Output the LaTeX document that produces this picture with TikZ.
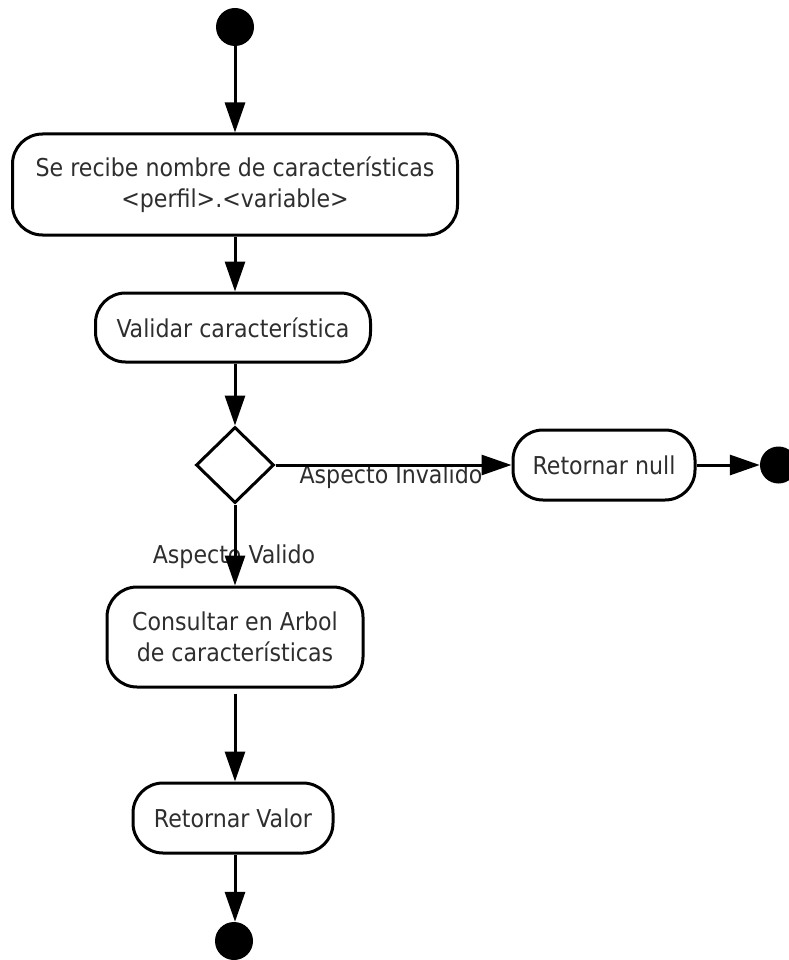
\documentclass[tikz,border=0pt]{standalone}
\usepackage{fontspec}
\IfFontExistsTF{DejaVu Sans Condensed}
  {\setmainfont{DejaVu Sans Condensed}}
  {\setmainfont{DejaVu Sans}[FakeStretch=0.9]}
\usetikzlibrary{arrows.meta, shapes.geometric}

\definecolor{ink}{HTML}{2E2E2E}

\tikzset{
  activity/.style={draw=black, line width=3pt, rounded corners=30pt,
    align=center, inner sep=0pt, text=ink,
    font=\fontsize{24.6}{31.5}\selectfont},
  decision/.style={draw=black, line width=3pt, diamond, inner sep=0pt,
    minimum width=78pt, minimum height=76pt},
  terminal/.style={circle, fill=black, inner sep=0pt, minimum size=38pt},
  guard/.style={text=ink, inner sep=0pt, font=\fontsize{24.6}{30}\selectfont},
  flow/.style={line width=3pt, draw=black,
    -{Triangle[length=30pt, width=20pt]}}
}

\begin{document}
\begin{tikzpicture}[x=1pt, y=-1pt]
  \useasboundingbox (0,0) rectangle (788,960);

  % nodes
  \node[terminal] (start) at (235,27) {};
  \node[activity, minimum width=445pt, minimum height=101pt] (recv) at (235,184.5)
    {Se recibe nombre de características\\<perfil>.<variable>};
  \node[activity, minimum width=275pt, minimum height=69pt] (valid) at (233,327.5)
    {Validar característica};
  \node[decision] (dec) at (235,465) {};
  \node[activity, minimum width=182pt, minimum height=70pt] (null) at (604,465)
    {Retornar null};
  \node[terminal, minimum size=37pt] (endnull) at (778.5,465) {};
  \node[activity, minimum width=256pt, minimum height=100pt] (query) at (235,637)
    {Consultar en Arbol\\de características};
  \node[activity, minimum width=200pt, minimum height=70pt] (ret) at (233,818)
    {Retornar Valor};
  \node[terminal] (endval) at (234,941) {};

  % guard labels (the connectors are drawn over them)
  \node[guard] (gInv) at (391,477) {Aspecto Invalido};
  \node[guard] (gVal) at (234,557) {Aspecto Valido};

  % connectors
  \draw[flow] (start) -- (start |- recv.north);
  \draw[flow] (recv.south -| start) -- (valid.north -| start);
  \draw[flow] (valid.south -| start) -- (dec.north);
  \draw[flow] (dec.east) -- (null.west);
  \draw[flow] (null.east) -- (endnull.west);
  \draw[flow] (dec.south) -- (query.north -| dec);
  \draw[flow, shorten <=5pt] (query.south -| dec) -- (ret.north -| dec);
  \draw[flow] (ret.south -| dec) -- (endval.north -| dec);
\end{tikzpicture}
\end{document}
